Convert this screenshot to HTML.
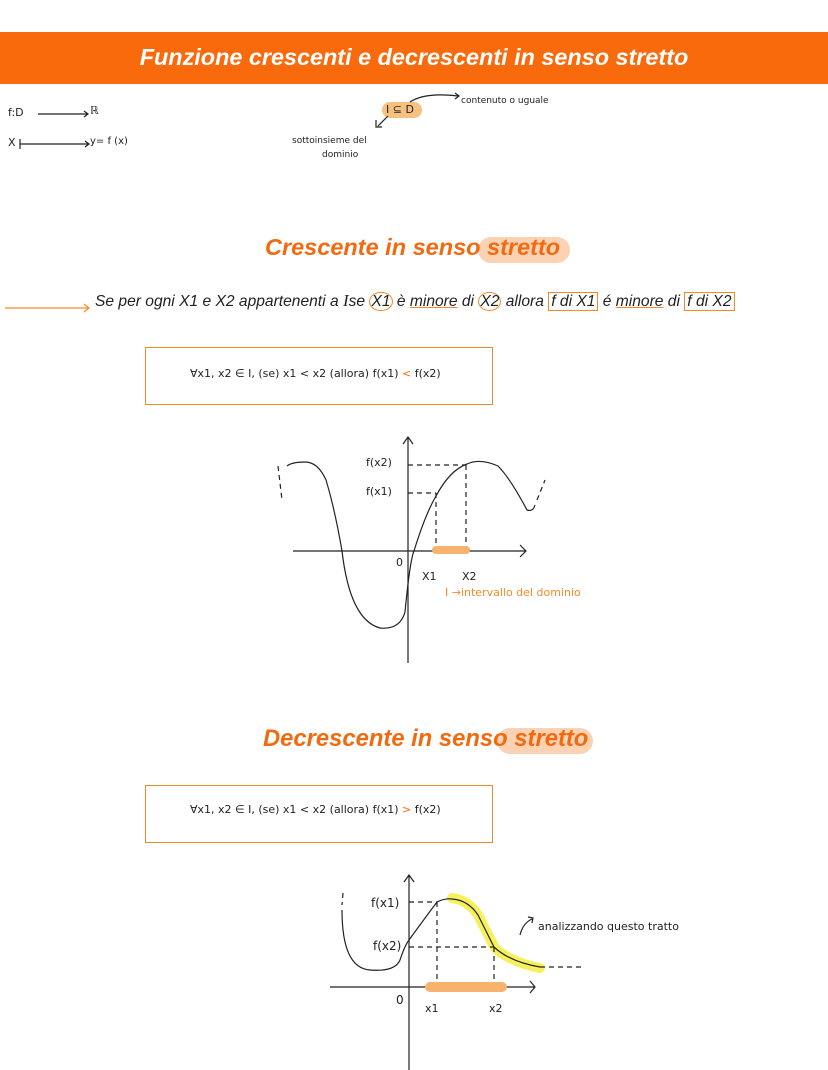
<!DOCTYPE html>
<html><head><meta charset="utf-8"><style>
body{margin:0;width:828px;height:1070px;background:#fff;position:relative;overflow:hidden;font-family:"Liberation Sans",sans-serif}
.a{position:absolute;white-space:nowrap}
.hw{font-family:"DejaVu Sans",sans-serif;color:#222}
</style></head><body>
<div class="a" style="left:0;top:32px;width:828px;height:52px;background:#f96a0c"></div>
<div class="a" style="left:0;top:44px;width:828px;text-align:center;color:#fff;font-weight:bold;font-style:italic;font-size:23.4px">Funzione crescenti e decrescenti in senso stretto</div>

<div class="a hw" style="left:8px;top:106px;font-size:11px">f:D</div>
<div class="a hw" style="left:90px;top:104px;font-size:11px">ℝ</div>
<div class="a hw" style="left:8px;top:136px;font-size:11px">X</div>
<div class="a hw" style="left:90px;top:136px;font-size:10px">y= f (x)</div>
<div class="a" style="left:382px;top:102px;width:40px;height:16px;background:#f7c07e;border-radius:8px"></div>
<div class="a hw" style="left:386px;top:103px;font-size:11px">I ⊆ D</div>
<div class="a hw" style="left:461px;top:96px;font-size:9px">contenuto o uguale</div>
<div class="a hw" style="left:292px;top:136px;font-size:9px">sottoinsieme del</div>
<div class="a hw" style="left:322px;top:150px;font-size:9px">dominio</div>

<svg class="a" style="left:0;top:0" width="828" height="1070" fill="none" stroke="#222" stroke-width="1.2">
<path d="M38 114H87M84 111l4 3-4 3M20 144H88M20 139v10M85 141l4 3-4 3"/>
<path d="M410 102q15-10 48-6M455 93l4 3-4 3M388 116l-10 10M376 120v7h6"/>
<path stroke="#f28a2a" d="M5 308H88M84 304l5 4-5 4"/>
<path d="M293 551H525M520 545l6 6-6 6M408 663V437M403 444l5-7 5 7"/>
<path d="M287 466Q292 462 305 462Q318 462 326 480Q335 510 342 551Q350 620 380 628Q400 630 405 612Q410 560 414 551Q425 515 436 496Q450 470 467 464Q480 458 498 466Q510 478 527 510Q533 512 535 505"/>
<path stroke-dasharray="5 4" d="M278 466L282 500M537 500L545 480M408 465H466M408 493H436M436 493V551M466 465V551"/>
<path stroke="#f7b26e" stroke-width="8" stroke-linecap="round" d="M436 550H466"/>
<path stroke="#f6f05a" stroke-width="10" stroke-linecap="round" d="M452 898Q468 900 478 915Q488 935 495 948Q510 962 540 968"/>
<path d="M330 987H535M530 981l5 6-5 6M409 1070V875M404 882l5-7 5 7"/>
<path d="M342 910Q342 968 370 970Q395 972 400 960Q405 945 409 940Q425 918 437 902Q445 898 452 899Q468 900 478 915Q488 935 494 947Q510 962 540 967"/>
<path stroke-dasharray="5 4" d="M343 893L342 905M540 967H582M409 902H437M409 947H494M437 902V987M494 947V987"/>
<path stroke="#f7b26e" stroke-width="10" stroke-linecap="round" d="M430 987H502"/>
<path d="M520 935q3-12 12-16M528 917l5 1-1 5"/>
</svg>

<div class="a" style="left:478px;top:237px;width:92px;height:26px;background:#fbd3b4;border-radius:13px"></div>
<div class="a" style="left:265px;top:234px;color:#f26a10;font-weight:bold;font-style:italic;font-size:23.5px">Crescente in senso stretto</div>
<div class="a" style="left:95px;top:291px;font-style:italic;font-size:15.6px;color:#222">Se per ogni X1 e X2 appartenenti a <span style="font-family:'Liberation Serif';font-size:17px">I</span>se <span style="border:1.5px solid #f28a2a;border-radius:50%;padding:0 1px">X1</span> è <u style="text-decoration-color:#f28a2a">minore</u> di <span style="border:1.5px solid #f28a2a;border-radius:50%;padding:0 1px">X2</span> allora <span style="border:1.5px solid #f28a2a;padding:0 2px">f di X1</span> é <u style="text-decoration-color:#f28a2a">minore</u> di <span style="border:1.5px solid #f28a2a;padding:0 2px">f di X2</span></div>

<div class="a" style="left:145px;top:347px;width:346px;height:56px;border:1.5px solid #f28a2a"></div>
<div class="a hw" style="left:190px;top:367px;font-size:11px">∀x1, x2 ∈ I, (se) x1 &lt; x2 (allora) f(x1) <span style="color:#f26a10">&lt;</span> f(x2)</div>

<div class="a hw" style="left:366px;top:456px;font-size:11px">f(x2)</div>
<div class="a hw" style="left:366px;top:485px;font-size:11px">f(x1)</div>
<div class="a hw" style="left:396px;top:556px;font-size:11px">0</div>
<div class="a hw" style="left:422px;top:570px;font-size:11px">X1</div>
<div class="a hw" style="left:462px;top:570px;font-size:11px">X2</div>
<div class="a" style="left:445px;top:586px;font-size:11px;color:#f28a2a;font-family:'DejaVu Sans',sans-serif">I →intervallo del dominio</div>

<div class="a" style="left:497px;top:728px;width:96px;height:26px;background:#fbd3b4;border-radius:13px"></div>
<div class="a" style="left:263px;top:725px;color:#f26a10;font-weight:bold;font-style:italic;font-size:23.8px">Decrescente in senso stretto</div>

<div class="a" style="left:145px;top:785px;width:346px;height:56px;border:1.5px solid #f28a2a"></div>
<div class="a hw" style="left:190px;top:803px;font-size:11px">∀x1, x2 ∈ I, (se) x1 &lt; x2 (allora) f(x1) <span style="color:#f26a10">&gt;</span> f(x2)</div>

<div class="a hw" style="left:371px;top:896px;font-size:12px">f(x1)</div>
<div class="a hw" style="left:373px;top:939px;font-size:12px">f(x2)</div>
<div class="a hw" style="left:396px;top:993px;font-size:12px">0</div>
<div class="a hw" style="left:425px;top:1002px;font-size:11px">x1</div>
<div class="a hw" style="left:489px;top:1002px;font-size:11px">x2</div>
<div class="a hw" style="left:538px;top:920px;font-size:11px">analizzando questo tratto</div>
</body></html>
